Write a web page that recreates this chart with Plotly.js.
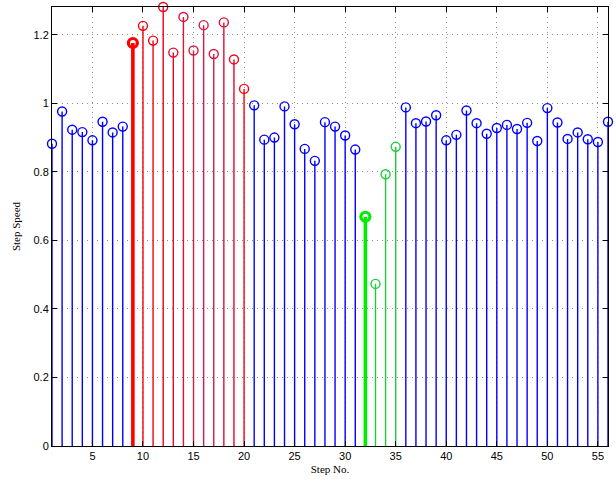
<!DOCTYPE html>
<html>
<head>
<meta charset="utf-8">
<script src="https://cdn.plot.ly/plotly-3.0.1.min.js"></script>
<style>html,body{margin:0;padding:0;background:#fff;}#chart{width:616px;height:483px;}</style>
</head>
<body>
<div id="chart"></div>
<script>
const steps = Array.from({length: 56}, (_, i) => i + 1);
const speeds = [
  0.882, 0.976, 0.923, 0.916, 0.892, 0.946, 0.915, 0.932,
  1.176, 1.226, 1.183, 1.281, 1.148, 1.252, 1.154, 1.228, 1.144, 1.236, 1.128, 1.042,
  0.994, 0.894, 0.900, 0.991, 0.939, 0.867, 0.832, 0.945, 0.932, 0.906, 0.865,
  0.669, 0.473, 0.793, 0.873,
  0.988, 0.942, 0.947, 0.965, 0.892, 0.908, 0.979, 0.942, 0.911, 0.928, 0.937,
  0.925, 0.943, 0.890, 0.986, 0.944, 0.896, 0.915, 0.895, 0.887, 0.946
];
const xTickVals = [5, 10, 15, 20, 25, 30, 35, 40, 45, 50, 55];
const yTickVals = [0, 0.2, 0.4, 0.6, 0.8, 1, 1.2];
const yTickText = ['0', '0.2', '0.4', '0.6', '0.8', '1', '1.2'];
const redShades = {
  9: '#ff0000', 10: '#f8000c', 11: '#f20014', 12: '#ec001c', 13: '#e40a2c',
  14: '#dc1436', 15: '#d21c44', 16: '#d21c44', 17: '#d41a40', 18: '#e00e32',
  19: '#ee0420', 20: '#fc0008'
};
const highlighted = [9, 32];

function colorFor(s) {
  if (redShades[s]) return redShades[s];
  if (s === 32) return '#00ee00';
  if (s >= 33 && s <= 35) return '#1ecc3c';
  return '#0000ff';
}

const traces = [];
steps.forEach((s, i) => {
  traces.push({
    type: 'scatter', mode: 'lines',
    x: [s, s], y: [0, speeds[i]],
    line: {color: colorFor(s), width: highlighted.includes(s) ? 3.6 : 1.4},
    hoverinfo: 'skip', showlegend: false
  });
});
traces.push({
  type: 'scatter', mode: 'markers',
  x: steps, y: speeds,
  cliponaxis: false,
  marker: {
    symbol: 'circle-open',
    size: 9,
    color: steps.map(colorFor),
    line: {width: steps.map(s => highlighted.includes(s) ? 3.2 : 1.4), color: steps.map(colorFor)}
  },
  showlegend: false
});

const axisCommon = {
  showline: true, linecolor: '#000', linewidth: 1, mirror: 'ticks',
  ticks: 'inside', ticklen: 5, tickcolor: '#000', tickwidth: 1,
  showgrid: true, gridcolor: '#8c8c8c', gridwidth: 1, griddash: '1px,4px',
  zeroline: false,
  tickfont: {family: 'Liberation Sans, Arial, sans-serif', size: 11, color: '#000'}
};

const layout = {
  width: 616, height: 483,
  margin: {l: 52, r: 8, t: 7, b: 37},
  paper_bgcolor: '#fff', plot_bgcolor: '#fff',
  xaxis: Object.assign({}, axisCommon, {
    range: [1, 56], tickvals: xTickVals, ticktext: xTickVals.map(String),
    title: {text: 'Step No.', font: {family: 'Liberation Serif, Times New Roman, serif', size: 11, color: '#000'}, standoff: 4}
  }),
  yaxis: Object.assign({}, axisCommon, {
    range: [0, 1.281], tickvals: yTickVals, ticktext: yTickText,
    title: {text: 'Step Speed', font: {family: 'Liberation Serif, Times New Roman, serif', size: 11, color: '#000'}, standoff: 10}
  })
};

Plotly.newPlot('chart', traces, layout, {staticPlot: true, displayModeBar: false});
</script>
</body>
</html>
